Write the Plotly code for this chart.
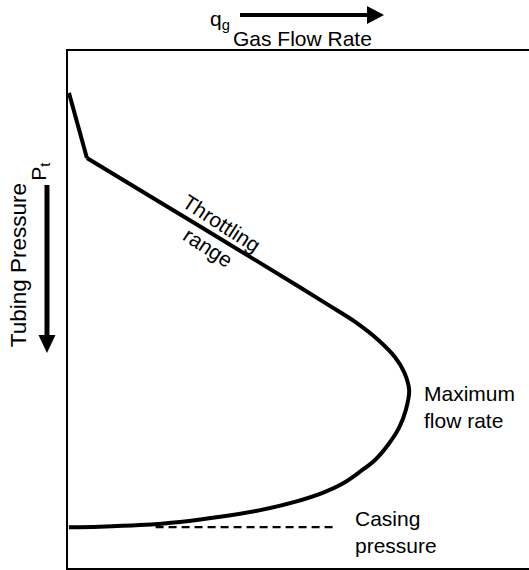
import plotly.graph_objects as go

# Relative units: gas flow rate runs left to right, tubing pressure grows downward.
# Steep opening segment at the left wall
start_rate = [0.2, 4.1]
start_pressure = [8.1, 20.7]

# Throttling range, maximum flow rate and the return toward casing pressure
flow_rate = [4.1, 17.8, 34.1, 50.3, 56.8, 62.3, 67.3, 70.9, 72.9, 74.0,
             73.3, 71.8, 69.4, 66.6, 63.3, 59.7, 55.1, 49.2, 41.7, 33.0,
             24.3, 15.6, 6.9, 0.2]
tubing_pressure = [20.7, 28.1, 36.9, 45.7, 49.3, 52.4, 55.9, 59.2, 62.1, 65.6,
                   69.4, 72.9, 76.2, 79.1, 81.4, 83.6, 85.5, 87.2, 88.8, 90.1,
                   91.1, 91.7, 92.0, 92.1]

# Casing pressure reference level
casing_rate = [19.0, 58.4]
casing_pressure = [92.1, 92.1]

FONT = "Liberation Sans, Arial, Helvetica, sans-serif"

fig = go.Figure()
fig.add_trace(go.Scatter(x=start_rate, y=start_pressure, mode="lines",
                         line=dict(color="black", width=4), hoverinfo="skip"))
fig.add_trace(go.Scatter(x=flow_rate, y=tubing_pressure, mode="lines",
                         line=dict(color="black", width=4, shape="spline", smoothing=1),
                         hoverinfo="skip"))
fig.add_trace(go.Scatter(x=casing_rate, y=casing_pressure, mode="lines",
                         line=dict(color="black", width=2.4, dash="8px,5px"),
                         hoverinfo="skip"))

txt = dict(family=FONT, size=21, color="black")

annotations = [
    # curve labels
    dict(x=33.4, y=33.3, xref="x", yref="y", text="Throttling", textangle=33,
         showarrow=False, font=txt),
    dict(x=30.4, y=38.1, xref="x", yref="y", text="range", textangle=33,
         showarrow=False, font=txt),
    dict(x=76.8, y=68.8, xref="x", yref="y", text="Maximum<br>flow rate",
         xanchor="left", yanchor="middle", align="left", showarrow=False, font=txt),
    dict(x=61.8, y=93.0, xref="x", yref="y", text="Casing<br>pressure",
         xanchor="left", yanchor="middle", align="left", showarrow=False, font=txt),
    # axis captions
    dict(x=0.355, y=1.06, xref="paper", yref="paper", text="q<sub>g</sub>",
         xanchor="right", yanchor="middle", showarrow=False, font=txt),
    dict(x=0.508, y=1.025, xref="paper", yref="paper", text="Gas Flow Rate",
         xanchor="center", yanchor="middle", showarrow=False, font=txt),
    dict(x=-0.108, y=0.586, xref="paper", yref="paper", text="Tubing Pressure",
         textangle=-90, xanchor="center", yanchor="middle", showarrow=False,
         font=dict(family=FONT, size=22.5, color="black")),
    dict(x=-0.061, y=0.766, xref="paper", yref="paper", text="P<sub>t</sub>",
         textangle=-90, xanchor="center", yanchor="middle", showarrow=False, font=txt),
]

# direction arrows beside the axis captions (shaft + filled head)
shapes = [
    dict(type="line", xref="paper", yref="paper", x0=0.3731, y0=1.0696, x1=0.6508, y1=1.0696,
         line=dict(color="black", width=4)),
    dict(type="path", xref="paper", yref="paper",
         path="M 0.6486 1.0870 L 0.6855 1.0696 L 0.6486 1.0522 Z",
         fillcolor="black", line=dict(color="black", width=0)),
    dict(type="line", xref="paper", yref="paper", x0=-0.0456, y0=0.7408, x1=-0.0456, y1=0.4487,
         line=dict(color="black", width=5)),
    dict(type="path", xref="paper", yref="paper",
         path="M -0.0640 0.4507 L -0.0271 0.4507 L -0.0456 0.4159 Z",
         fillcolor="black", line=dict(color="black", width=0)),
]

fig.update_layout(
    width=529, height=570,
    margin=dict(l=68, r=0, t=51, b=2),
    paper_bgcolor="white", plot_bgcolor="white",
    showlegend=False,
    annotations=annotations,
    shapes=shapes,
    xaxis=dict(range=[0, 100], showline=True, linecolor="black", linewidth=2, mirror=True,
               showgrid=False, zeroline=False, showticklabels=False, ticks=""),
    yaxis=dict(range=[100, 0], showline=True, linecolor="black", linewidth=2,
               showgrid=False, zeroline=False, showticklabels=False, ticks=""),
)

fig.write_html("out.html")
